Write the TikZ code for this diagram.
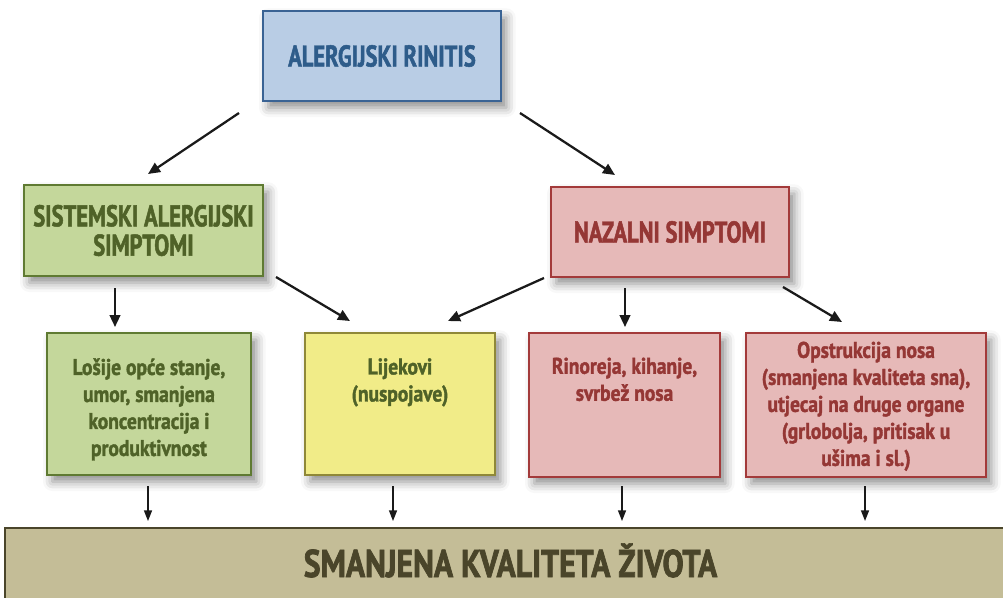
\documentclass[tikz,border=0pt]{standalone}
\usepackage{fontspec}
\setmainfont{PT Sans}
\newfontfamily\ttlfont{PT Sans}[FakeStretch=0.75, BoldFeatures={FakeBold=1.6}]
\newfontfamily\smlfont{PT Sans}[FakeStretch=0.86, BoldFeatures={FakeBold=1.6}]
\newfontfamily\botfont{PT Sans}[FakeStretch=0.82, BoldFeatures={FakeBold=1.8}]
\usetikzlibrary{shadows.blur,arrows.meta}
\definecolor{bluefill}{HTML}{B9CDE5}
\definecolor{blueline}{HTML}{3A6394}
\definecolor{bluetext}{HTML}{2E5C8A}
\definecolor{greenfill}{HTML}{C4D79B}
\definecolor{greenline}{HTML}{5F7A32}
\definecolor{greentext}{HTML}{4F6228}
\definecolor{redfill}{HTML}{E6B9B8}
\definecolor{redline}{HTML}{A33A3A}
\definecolor{redtext}{HTML}{953735}
\definecolor{yellowfill}{HTML}{F1EC88}
\definecolor{yellowline}{HTML}{8F8838}
\definecolor{tanfill}{HTML}{C4BD97}
\definecolor{tanline}{HTML}{4A452A}
\definecolor{tantext}{HTML}{4A452A}
\definecolor{arrowcol}{HTML}{1A1A1A}
\tikzset{
  box/.style={rectangle, draw, line width=1.5pt, inner sep=0pt, align=center,
    blur shadow={shadow xshift=4pt, shadow yshift=-5pt, shadow blur radius=7pt, shadow opacity=45}},
  title/.style={font=\ttlfont\bfseries\fontsize{22.5}{22}\selectfont},
  small/.style={font=\smlfont\bfseries\fontsize{17}{20.25}\selectfont},
  arr/.style={draw=arrowcol, line width=1.7pt, -{Triangle[length=9pt,width=8pt]}},
  arrthin/.style={draw=arrowcol, line width=1.1pt, -{Triangle[length=8pt,width=6pt]}},
}
\newcommand{\tbox}[4]{\begin{minipage}[c][#2][t]{#1}\centering\vspace*{#3}#4\end{minipage}}
\begin{document}
\begin{tikzpicture}[x=0.75pt,y=-0.75pt]
\useasboundingbox (0,0) rectangle (1003,597);
% top level
\node[box, title, fill=bluefill, draw=blueline, text=bluetext, minimum width=178.5pt, minimum height=67.5pt] (top) at (382,56) {ALERGIJSKI RINITIS};
% second level
\node[box, title, fill=greenfill, draw=greenline, text=greentext, minimum width=179.25pt, minimum height=68.25pt] (sys) at (143.5,230.5) {SISTEMSKI ALERGIJSKI\\SIMPTOMI};
\node[box, title, fill=redfill, draw=redline, text=redtext, minimum width=178.5pt, minimum height=67.5pt] (naz) at (670,232) {NAZALNI SIMPTOMI};
% third level
\node[box, small, fill=greenfill, draw=greenline, text=greentext] (los) at (149,404)
  {\tbox{153pt}{106.5pt}{19pt}{Lošije opće stanje,\\umor, smanjena\\koncentracija i\\produktivnost}};
\node[box, small, fill=yellowfill, draw=yellowline, text=greentext] (lij) at (400,404)
  {\tbox{142.5pt}{106.5pt}{19pt}{Lijekovi\\(nuspojave)}};
\node[box, small, fill=redfill, draw=redline, text=redtext] (rin) at (624.5,405)
  {\tbox{143.25pt}{108pt}{18.5pt}{Rinoreja, kihanje,\\svrbež nosa}};
\node[box, small, fill=redfill, draw=redline, text=redtext] (ops) at (866,405)
  {\tbox{180pt}{108pt}{6.5pt}{Opstrukcija nosa\\(smanjena kvaliteta sna),\\utjecaj na druge organe\\(grlobolja, pritisak u\\ušima i sl.)}};
% bottom bar
\node[rectangle, draw=tanline, line width=1.5pt, fill=tanfill, inner sep=0pt,
  minimum width=753.75pt, minimum height=61.5pt] (bot) at (507.5,569) {};
\node[text=tantext, inner sep=0pt, text height=20.25pt, text depth=0pt,
  font=\botfont\bfseries\fontsize{29}{30}\selectfont] (bottxt) at (510.5,563.5) {SMANJENA KVALITETA ŽIVOTA};
% arrows
\draw[arr] ([shift={(-23,11)}]top.south west) -- ([shift={(4.5,-10)}]sys.north);
\draw[arr] ([shift={(18,11)}]top.south east) -- ([shift={(-55,-11)}]naz.north);
\draw[arr] ([shift={(-28.5,11)}]sys.south) -- ([shift={(-34,-5)}]los.north);
\draw[arr] ([shift={(12,0)}]sys.south east) -- ([shift={(-50,-11)}]lij.north);
\draw[arr] ([shift={(-6,0)}]naz.south west) -- ([shift={(48,-11)}]lij.north);
\draw[arr] ([shift={(-45,10)}]naz.south) -- ([shift={(0.5,-5)}]rin.north);
\draw[arr] ([shift={(-7,9)}]naz.south east) -- ([shift={(-24,-10)}]ops.north);
\draw[arrthin] ([shift={(-1,10)}]los.south) -- ([shift={(-359.5,-6)}]bot.north);
\draw[arrthin] ([shift={(-7,10)}]lij.south) -- ([shift={(-114.5,-6)}]bot.north);
\draw[arrthin] ([shift={(-2.5,8)}]rin.south) -- ([shift={(114.5,-6)}]bot.north);
\draw[arrthin] ([shift={(-1,8)}]ops.south) -- ([shift={(357.5,-6)}]bot.north);
\end{tikzpicture}
\end{document}
